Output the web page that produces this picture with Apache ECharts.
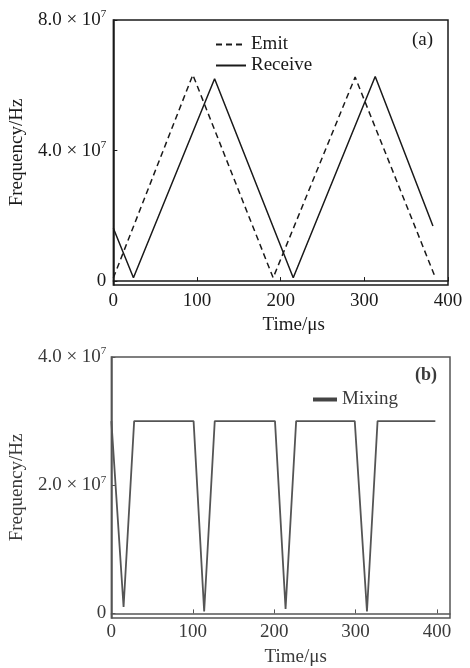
<!DOCTYPE html>
<html>
<head>
<meta charset="utf-8">
<script src="https://cdn.jsdelivr.net/npm/echarts@6/dist/echarts.min.js"></script>
<style>
html,body{margin:0;padding:0;background:#fff;}
#c{width:470px;height:668px;}
</style>
</head>
<body>
<div id="c"></div>
<script>
// Panel (a)
const timeEmit = [0, 95, 191, 289, 385];
const freqEmit = [0.1e7, 6.32e7, 0.1e7, 6.25e7, 0.1e7];
const timeReceive = [0, 24, 121, 215, 313, 382];
const freqReceive = [1.62e7, 0.1e7, 6.2e7, 0.1e7, 6.27e7, 1.69e7];
const yTicksA = [0, 4e7, 8e7];
const xTicksA = [0, 100, 200, 300, 400];
// Panel (b)
const timeMixing = [0, 15, 28, 101, 114, 127, 201, 214, 227, 299, 314, 327, 398];
const freqMixing = [3e7, 0.1e7, 3e7, 3e7, 0.03e7, 3e7, 3e7, 0.07e7, 3e7, 3e7, 0.03e7, 3e7, 3e7];
const yTicksB = [0, 2e7, 4e7];
const xTicksB = [0, 100, 200, 300, 400];

const FONT = '"Liberation Serif", "DejaVu Serif", serif';
const zip = (xs, ys) => xs.map((x, i) => [x, ys[i]]);

function sciLabel(v) {
  if (v === 0) return '{a|0}';
  const e = Math.floor(Math.log10(v));
  const m = (v / Math.pow(10, e)).toFixed(1);
  return '{a|' + m + ' × 10}{s|' + e + '}';
}
function rich(color) {
  return {
    a: {fontFamily: FONT, fontSize: 19, color: color, lineHeight: 22},
    s: {fontFamily: FONT, fontSize: 11, color: color, verticalAlign: 'top', lineHeight: 12, padding: [0, 0, 10, 0]}
  };
}

const chart = echarts.init(document.getElementById('c'));
const colA = '#1a1a1a';
const colB = '#3a3a3a';
chart.setOption({
  animation: false,
  backgroundColor: '#fff',
  grid: [
    {left: 107, top: 20, width: 341, height: 265, show: true, borderColor: colA, borderWidth: 1.5},
    {left: 109, top: 357, width: 341, height: 265, show: true, borderColor: '#555', borderWidth: 1.5}
  ],
  legend: [
    {
      data: ['Emit', 'Receive'], orient: 'vertical', left: 210, top: 30,
      itemWidth: 30, itemHeight: 14, itemGap: 2,
      itemStyle: {opacity: 0},
      textStyle: {fontFamily: FONT, fontSize: 19, color: colA}
    },
    {
      data: [{name: 'Mixing', icon: 'rect'}], left: 308, top: 385,
      itemWidth: 24, itemHeight: 4, itemGap: 4,
      textStyle: {fontFamily: FONT, fontSize: 19, color: colB}
    }
  ],
  graphic: [
    {type: 'text', left: 412, top: 31, style: {text: '(a)', font: '19px ' + FONT, fill: colA}},
    {type: 'text', left: 415, top: 366, style: {text: '(b)', font: 'bold 18px ' + FONT, fill: colB}}
  ],
  xAxis: [
    {
      type: 'value', gridIndex: 0, min: 0, max: 400,
      name: 'Time/μs', nameLocation: 'middle', nameGap: 31,
      nameTextStyle: {fontFamily: FONT, fontSize: 19, color: colA, padding: [0, 0, 0, 26]},
      axisLine: {show: true, lineStyle: {color: colA, width: 1.5}},
      axisTick: {show: true, inside: true, length: 4, customValues: xTicksA, lineStyle: {color: colA}},
      axisLabel: {customValues: xTicksA, margin: 7, fontFamily: FONT, fontSize: 19, color: colA},
      splitLine: {show: false}
    },
    {
      type: 'value', gridIndex: 1, min: 0, max: 416,
      name: 'Time/μs', nameLocation: 'middle', nameGap: 30,
      nameTextStyle: {fontFamily: FONT, fontSize: 19, color: colB, padding: [0, 0, 0, 30]},
      axisLine: {show: true, lineStyle: {color: '#555', width: 1.5}},
      axisTick: {show: true, inside: true, length: 4, customValues: xTicksB, lineStyle: {color: '#555'}},
      axisLabel: {customValues: xTicksB, margin: 5, fontFamily: FONT, fontSize: 19, color: colB},
      splitLine: {show: false}
    }
  ],
  yAxis: [
    {
      type: 'value', gridIndex: 0, min: -1.2e6, max: 8e7,
      name: 'Frequency/Hz', nameLocation: 'middle', nameGap: 79,
      nameTextStyle: {fontFamily: FONT, fontSize: 19, color: colA},
      axisLine: {show: true, lineStyle: {color: colA, width: 1.5}},
      axisTick: {show: true, inside: true, length: 4, customValues: yTicksA, lineStyle: {color: colA}},
      axisLabel: {customValues: yTicksA, margin: 7, formatter: sciLabel, rich: rich(colA)},
      splitLine: {show: false}
    },
    {
      type: 'value', gridIndex: 1, min: -0.72e6, max: 4e7,
      name: 'Frequency/Hz', nameLocation: 'middle', nameGap: 77,
      nameTextStyle: {fontFamily: FONT, fontSize: 19, color: colB},
      axisLine: {show: true, lineStyle: {color: '#555', width: 1.5}},
      axisTick: {show: true, inside: true, length: 4, customValues: yTicksB, lineStyle: {color: '#555'}},
      axisLabel: {customValues: yTicksB, margin: 5, formatter: sciLabel, rich: rich(colB)},
      splitLine: {show: false}
    }
  ],
  series: [
    {
      name: 'Emit', type: 'line', xAxisIndex: 0, yAxisIndex: 0,
      data: zip(timeEmit, freqEmit), symbol: 'none',
      lineStyle: {color: colA, width: 1.5, type: [6, 4]}, itemStyle: {color: colA}
    },
    {
      name: 'Receive', type: 'line', xAxisIndex: 0, yAxisIndex: 0,
      data: zip(timeReceive, freqReceive), symbol: 'none',
      lineStyle: {color: colA, width: 1.5}, itemStyle: {color: colA}
    },
    {
      name: 'Mixing', type: 'line', xAxisIndex: 1, yAxisIndex: 1,
      data: zip(timeMixing, freqMixing), symbol: 'none',
      lineStyle: {color: '#555', width: 1.8}, itemStyle: {color: '#444'}
    }
  ]
});
</script>
</body>
</html>
